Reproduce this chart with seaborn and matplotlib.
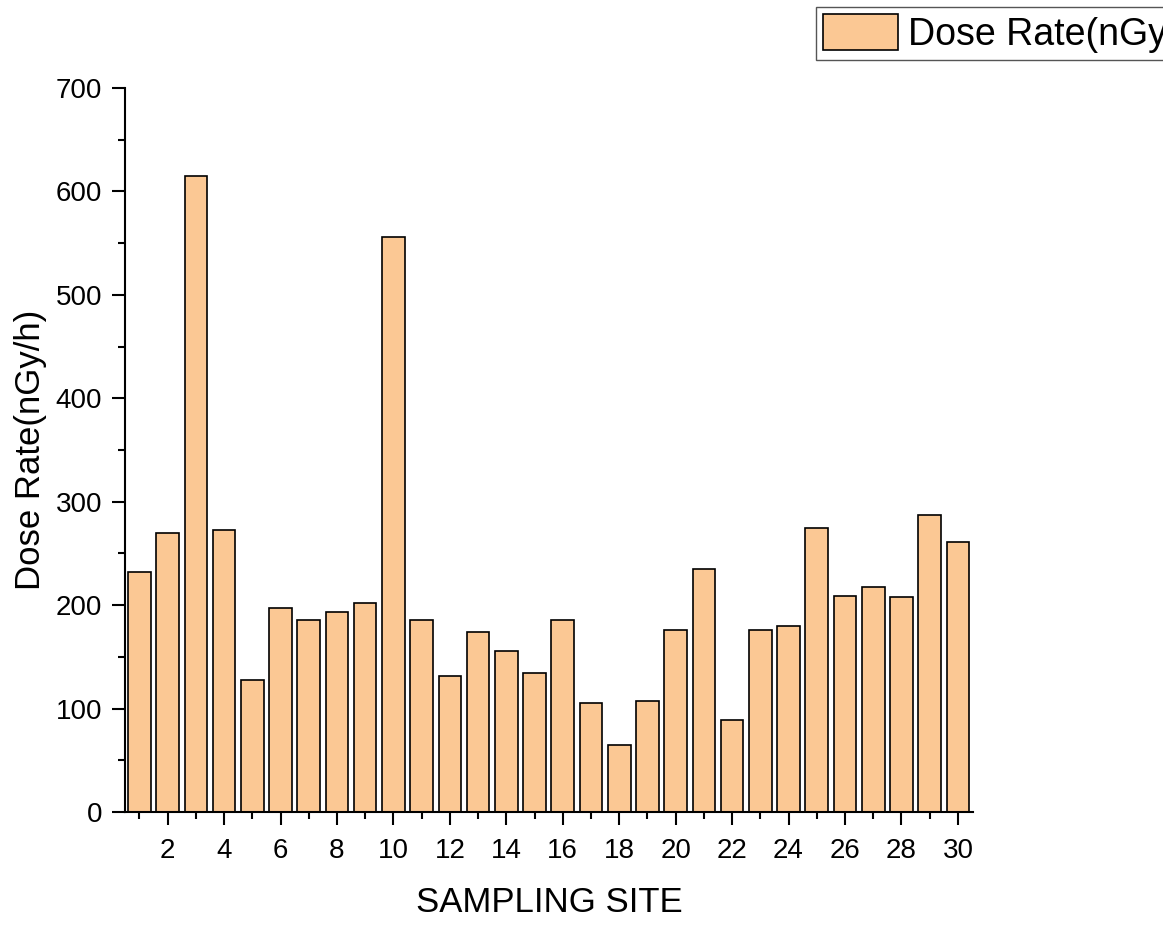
import matplotlib
matplotlib.use("Agg")
import matplotlib.pyplot as plt
from matplotlib.ticker import MultipleLocator
import pandas as pd
import seaborn as sns

# sampling sites and measured dose rates (nGy/h)
sites = list(range(1, 31))
dose_rate = [232, 270, 615, 273, 128, 197, 186, 193, 202, 556,
             186, 132, 174, 156, 134, 186, 105, 65, 107, 176,
             235, 89, 176, 180, 275, 209, 218, 208, 287, 261]
series_label = "Dose Rate(nGy/h)"

df = pd.DataFrame({"site": sites, "dose": dose_rate})

sns.set_theme(style="ticks")
plt.rcParams["font.family"] = ["Liberation Sans", "DejaVu Sans"]
plt.rcParams["text.color"] = "black"

fig = plt.figure(figsize=(11.63, 9.27), dpi=100)
ax = fig.add_axes([0.1075, 0.124, 0.729, 0.781])

sns.barplot(data=df, x="site", y="dose", native_scale=True, width=0.8,
            color="#FBC894", edgecolor="black", linewidth=1.2,
            saturation=1, label=series_label, legend=False, ax=ax)

ax.set_xlim(0.49, 30.53)
ax.set_ylim(0, 700)
ax.xaxis.set_major_locator(MultipleLocator(2))
ax.xaxis.set_minor_locator(MultipleLocator(1))
ax.yaxis.set_major_locator(MultipleLocator(100))
ax.yaxis.set_minor_locator(MultipleLocator(50))
ax.tick_params(which="major", length=9.5, width=1.5, labelsize=20,
               color="black", labelcolor="black")
ax.tick_params(axis="x", which="major", pad=9)
ax.tick_params(axis="y", which="major", pad=7)
ax.tick_params(which="minor", length=5, width=1.5, color="black")

for side in ["top", "right"]:
    ax.spines[side].set_visible(False)
for side in ["left", "bottom"]:
    ax.spines[side].set_linewidth(1.5)
    ax.spines[side].set_color("black")

ax.set_xlabel("SAMPLING SITE", fontsize=25, labelpad=16, color="black")
ax.set_ylabel("Dose Rate(nGy/h)", fontsize=25, labelpad=6, color="black")

# legend sits at the top right and runs past the figure edge, as in the source
handles, labels = ax.get_legend_handles_labels()
leg = fig.legend(handles[:1], labels[:1], loc="lower left",
                 bbox_to_anchor=(0.7016, 0.935), fontsize=27,
                 fancybox=False, framealpha=1, borderpad=0.2,
                 handlelength=2.0, handleheight=1.1, handletextpad=0.25,
                 borderaxespad=0)
leg.get_frame().set_edgecolor("#555555")
leg.get_frame().set_linewidth(1.0)

fig.savefig("out.png", dpi=100)
